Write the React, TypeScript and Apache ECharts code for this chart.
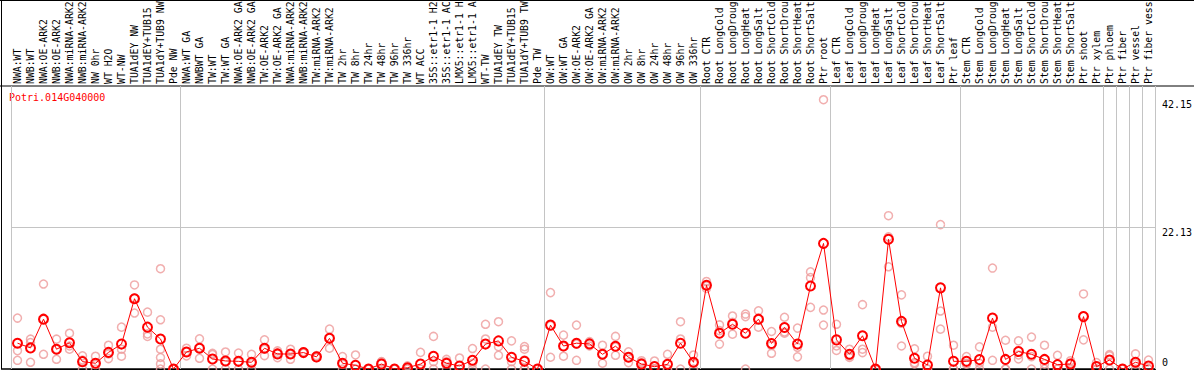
import React, { useEffect, useRef } from "react";
import * as echarts from "echarts";

const geneId = "Potri.014G040000";

const categories = [
  "NWA:WT", "NWB:WT", "NWA:OE-ARK2", "NWB:OE-ARK2", "NWA:miRNA-ARK2", "NWB:miRNA-ARK2",
  "NW 0hr", "WT H2O", "WT-NW", "TUA1dEY NW", "TUA1dEY+TUB15 NW", "TUA1dY+TUB9 NW", "Pde NW",
  "NWA:WT GA", "NWBWT GA", "TW:WT", "TW:WT GA", "NWA:OE-ARK2 GA", "NWB:OE-ARK2 GA",
  "TW:OE-ARK2", "TW:OE-ARK2 GA", "NWA:miRNA-ARK2 GA", "NWB:miRNA-ARK2 GA", "TW:miRNA-ARK2",
  "TW:miRNA-ARK2 GA", "TW 2hr", "TW 8hr", "TW 24hr", "TW 48hr", "TW 96hr", "TW 336hr", "WT ACC",
  "35S::etr1-1 H2O", "35S::etr1-1 ACC", "LMX5::etr1-1 H2O", "LMX5::etr1-1 ACC", "WT-TW",
  "TUA1dEY TW", "TUA1dEY+TUB15 TW", "TUA1dY+TUB9 TW", "Pde TW",
  "OW:WT", "OW:WT GA", "OW:OE-ARK2", "OW:OE-ARK2 GA", "OW:miRNA-ARK2", "OW:miRNA-ARK2 GA",
  "OW 2hr", "OW 8hr", "OW 24hr", "OW 48hr", "OW 96hr", "OW 336hr",
  "Root CTR", "Root LongCold", "Root LongDrought", "Root LongHeat", "Root LongSalt",
  "Root ShortCold", "Root ShortDrought", "Root ShortHeat", "Root ShortSalt", "Ptr root",
  "Leaf CTR", "Leaf LongCold", "Leaf LongDrought", "Leaf LongHeat", "Leaf LongSalt",
  "Leaf ShortCold", "Leaf ShortDrought", "Leaf ShortHeat", "Leaf ShortSalt", "Ptr leaf",
  "Stem CTR", "Stem LongCold", "Stem LongDrought", "Stem LongHeat", "Stem LongSalt",
  "Stem ShortCold", "Stem ShortDrought", "Stem ShortHeat", "Stem ShortSalt", "Ptr shoot",
  "Ptr xylem", "Ptr phloem", "Ptr fiber", "Ptr vessel", "Ptr fiber vessel",
];

const meanValues = [
  4.04, 3.3, 7.8, 3.1, 4.1, 1.15, 0.9, 2.6, 3.9, 11.0, 6.55, 4.7, 0,
  2.67, 3.25, 1.57, 1.26, 1.2, 1.05, 3.25, 2.36, 2.34, 2.57, 1.9, 4.8, 0.9, 0.57, 0,
  0.78, 0, 0.2, 0.78, 2.0, 0.9, 0.47, 1.36, 3.9, 4.4, 1.83, 1.2, 0,
  6.87, 3.6, 4.04, 3.93, 2.3, 3.57, 1.83, 0.78, 0.37, 0.73, 4.04, 1.05,
  13.1, 5.6, 7.0, 5.6, 7.8, 4.0, 6.5, 3.9, 13.0, 19.66,
  4.56, 2.3, 5.2, 0, 20.3, 7.45, 1.68, 0.63, 12.7, 1.2,
  1.2, 1.47, 7.97, 1.5, 2.73, 2.3, 1.5, 0.68, 0.78, 8.2,
  0.37, 1.4, 0, 1.05, 0.47,
];

const replicates = [
  [7.97, 2.88, 1.36], [4.67, 4.14, 1.05], [13.3, 7.8, 2.3], [4.67, 3.1, 1.52], [5.6, 3.6, 3.1],
  [2.05, 1.4, 0], [2.0, 0.7, 0], [3.72, 2.36, 1.63], [6.55, 3.1, 2.0], [13.16, 11.1, 8.76],
  [8.9, 5.5, 5.1], [15.7, 7.7, 3.1, 1.8, 0.8, 0], [0, 0, 0],
  [3.25, 2.7, 2.05], [4.72, 3.35, 1.68], [2.46, 2.25, 0], [2.67, 1.1, 0], [2.5, 1.1, 0],
  [2.3, 0.85, 0], [4.56, 3.1, 2.1], [2.83, 2.47, 1.78], [3.1, 2.3, 1.52], [2.7, 2.5, 2.5],
  [2.1, 1.8, 1.8], [6.24, 4.9, 3.25], [1.94, 0.76, 0], [2.2, 0, 0], [0, 0, 0],
  [1.15, 1.1, 0], [0, 0, 0], [0.5, 0.1, 0], [2.6, 0, 0], [5.1, 1.15, 0],
  [1.5, 1.15, 0], [1.73, 0, 0], [3.2, 0.9, 0], [7.0, 4.7, 0], [7.4, 3.5, 2.15],
  [4.4, 1.15, 0], [3.5, 3.1, 1.4, 0, 0, 0], [0, 0, 0],
  [11.96, 6.8, 1.84], [5.3, 3.5, 2.0], [6.87, 3.9, 1.36], [4.3, 3.9, 3.6], [3.72, 2.3, 0.9],
  [5.1, 3.45, 2.15], [2.7, 1.8, 1.0], [1.3, 1.0, 0], [1.26, 0, 0], [2.3, 0, 0],
  [7.4, 4.7, 0], [2.2, 0.9, 0],
  [13.7, 13.0, 12.6], [6.9, 6.0, 3.9], [8.3, 7.3, 5.45], [8.6, 8.2, 0], [9.1, 7.8, 6.55],
  [5.87, 3.67, 2.46], [8.1, 5.8, 5.6], [6.4, 3.4, 1.9], [15.2, 14.3, 9.65], [42.15, 9.23, 6.87],
  [7.0, 3.6, 2.9], [3.1, 2.05, 1.8], [10.07, 3.1, 2.57], [0, 0, 0], [24.0, 20.7, 16.0],
  [11.6, 7.15, 3.6], [3.15, 1.0, 0.8], [2.0, 0, 0], [22.6, 9.07, 6.24], [3.72, 0, 0],
  [1.94, 0.9, 0.75], [3.46, 0.9, 0], [15.8, 6.55, 1.36], [4.5, 0, 0], [4.4, 2.2, 1.57],
  [5.0, 1.94, 0], [3.72, 0.8, 0], [2.15, 0, 0], [1.3, 0.9, 0], [11.75, 8.3, 4.56],
  [1.0, 0, 0], [2.25, 2.05, 0], [0, 0, 0], [2.36, 0.8, 0], [1.4, 0, 0],
];

const yTickLabels = [0, 22.13, 42.15];
const midLineValue = 22.13;
const yMax = 44.3;
const groupStarts = [0, 13, 41, 53, 63, 73, 84, 85, 86, 87];

export default function App() {
  const ref = useRef<HTMLDivElement>(null);

  useEffect(() => {
    if (!ref.current) return;
    const chart = echarts.init(ref.current, null, { renderer: "svg" });
    const font = "'DejaVu Sans Mono', monospace";
    const gray = "#c4c4c4";

    const repData: number[][] = [];
    replicates.forEach((arr, i) => arr.forEach((v) => repData.push([i, v])));

    const isGroupStart = (i: number) => groupStarts.indexOf(i) >= 0;

    chart.setOption({
      animation: false,
      textStyle: { fontFamily: font },
      grid: { left: 11, right: 39, top: 86, bottom: 1, containLabel: false, outerBoundsMode: "none" },
      xAxis: [
        {
          type: "category",
          position: "top",
          data: categories,
          boundaryGap: true,
          axisLine: { show: true, lineStyle: { color: "#000", width: 1 } },
          axisTick: {
            show: true,
            interval: isGroupStart,
            length: 86,
            lineStyle: { color: gray, width: 1 },
          },
          axisLabel: {
            interval: 0,
            rotate: 90,
            fontSize: 9.8,
            color: "#000",
            fontFamily: font,
            margin: 2,
            width: 85,
            overflow: "truncate",
            ellipsis: "",
          },
          splitLine: {
            show: true,
            interval: isGroupStart,
            lineStyle: { color: gray, width: 1 },
          },
        },
      ],
      yAxis: {
        type: "value",
        position: "right",
        min: 0,
        max: yMax,
        axisLine: { show: false },
        axisTick: { show: false },
        splitLine: { show: false },
        axisLabel: {
          customValues: yTickLabels,
          margin: 7,
          color: "#000",
          fontSize: 10,
          fontFamily: font,
          formatter: (v: number) => (v === 0 ? `{b|${v}}` : `{t|${v}}`),
          rich: {
            t: { padding: [9, 0, 0, 0], fontSize: 10, fontFamily: font, color: "#000" },
            b: { padding: [0, 0, 14, 0], fontSize: 10, fontFamily: font, color: "#000" },
          },
        },
      },
      graphic: [
        { type: "line", shape: { x1: 0, y1: 0.5, x2: 1194, y2: 0.5 }, style: { stroke: "#000", lineWidth: 1 }, silent: true },
        { type: "line", shape: { x1: 0, y1: 86, x2: 1194, y2: 86 }, style: { stroke: "#000", lineWidth: 1 }, silent: true },
        { type: "line", shape: { x1: 1.5, y1: 0, x2: 1.5, y2: 369 }, style: { stroke: "#000", lineWidth: 1 }, silent: true },
        { type: "line", shape: { x1: 1, y1: 369, x2: 1156, y2: 369 }, style: { stroke: "#000", lineWidth: 1.5 }, silent: true },
        {
          type: "text",
          left: 9,
          top: 92,
          style: { text: geneId, fill: "#ff0000", font: `10px ${font}` },
          silent: true,
        },
      ],
      series: [
        {
          type: "scatter",
          data: repData,
          symbol: "circle",
          symbolSize: 8,
          itemStyle: { color: "rgba(0,0,0,0)", borderColor: "#ee9a9a", borderWidth: 1.5 },
          z: 2,
        },
        {
          type: "line",
          data: meanValues,
          symbol: "circle",
          symbolSize: 9,
          showAllSymbol: true,
          lineStyle: { color: "#ff0000", width: 1 },
          itemStyle: { color: "rgba(0,0,0,0)", borderColor: "#ff0000", borderWidth: 2 },
          z: 3,
          markLine: {
            silent: true,
            symbol: ["none", "none"],
            label: { show: false },
            lineStyle: { color: gray, type: "solid", width: 1 },
            data: [{ yAxis: midLineValue }],
          },
        },
      ],
    });

    return () => chart.dispose();
  }, []);

  return (
    <div
      ref={ref}
      style={{ position: "fixed", left: 0, top: 0, width: 1194, height: 370, background: "#fff" }}
    />
  );
}
